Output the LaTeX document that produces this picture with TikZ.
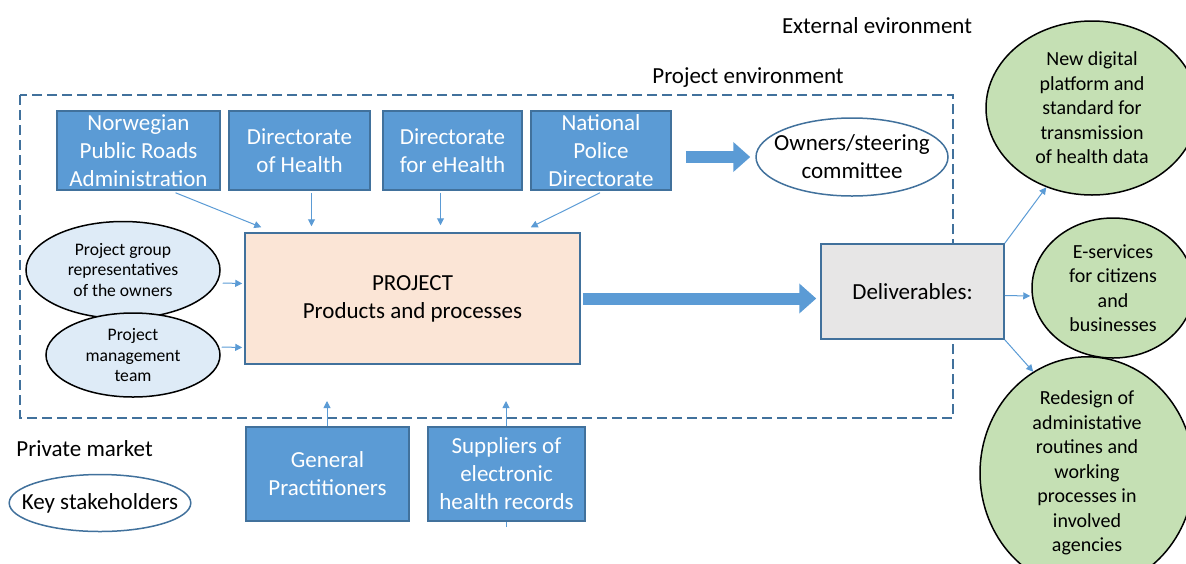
\documentclass[tikz,border=0pt]{standalone}
\usepackage{fontspec}
\setmainfont{Carlito}
\usepackage{tikz}
\usetikzlibrary{positioning,shapes,calc,arrows.meta}

\definecolor{boxblue}{RGB}{91,155,213}
\definecolor{edgeblue}{RGB}{65,113,156}
\definecolor{projfill}{RGB}{251,229,214}
\definecolor{lightblue}{RGB}{222,235,247}
\definecolor{lightgreen}{RGB}{197,224,180}
\definecolor{lightgray}{RGB}{231,230,230}

\newcommand{\bigtxt}{\fontsize{11.5}{14}\selectfont}
\newcommand{\midtxt}{\fontsize{10}{12.25}\selectfont}
\newcommand{\smalltxt}{\fontsize{8.8}{10.3}\selectfont}

\begin{document}
\begin{tikzpicture}[x=0.5pt,y=-0.5pt,
    bluebox/.style={draw=edgeblue,fill=boxblue,line width=0.75pt,text=white,
      align=center,inner sep=0pt,font=\bigtxt},
    whiteell/.style={ellipse,draw=edgeblue,fill=white,line width=0.75pt,
      inner sep=0pt,align=center,font=\bigtxt},
    blueell/.style={ellipse,draw=black,fill=lightblue,line width=0.75pt,
      inner sep=0pt,align=center,font=\smalltxt},
    greenell/.style={ellipse,draw=black,fill=lightgreen,line width=0.75pt,
      inner sep=0pt,align=center,font=\midtxt},
    thin/.style={draw=boxblue,line width=0.5pt,-{Triangle[length=3.5pt,width=3.5pt]}},
    bigarrow/.style={draw=boxblue,line width=6pt,
      -{Triangle[length=8.5pt,width=14.5pt]}},
    plain/.style={inner sep=0pt,font=\bigtxt}]
  \useasboundingbox (0,0) rectangle (1186,563);
  \clip (0,0) rectangle (1186,563);
  %%
  % Frame: project environment
  \draw[edgeblue,line width=1pt,dash pattern=on 5pt off 2.5pt] (20,95) rectangle (953,418);
  \node[plain] (extlbl) at (877,26) {External evironment};
  \node[plain] (envlbl) at (748,78) {Project environment};
  \node[plain,anchor=west] (privlbl) at (16,449) {Private market};
  %
  % Node: arrows out of the bottom boxes (drawn first, boxes go on top)
  \coordinate (gpin) at (327,401);
  \coordinate (supin) at (506,401);
  \draw[thin] (327,521) -- (gpin);
  \draw[thin] (506,527) -- (supin);
  %
  % Node: owners
  \node[bluebox,minimum width=81.5pt,minimum height=39.5pt] (npra) at (138.5,150.5)
    {Norwegian\\Public Roads\\Administration};
  \node[bluebox,minimum width=70.5pt,minimum height=39.5pt] (doh) at (299.5,150.5)
    {Directorate\\of Health};
  \node[bluebox,minimum width=69.5pt,minimum height=39.5pt] (deh) at (452.5,150.5)
    {Directorate\\for eHealth};
  \node[bluebox,minimum width=70pt,minimum height=39.5pt] (pol) at (601,150.5)
    {National\\Police\\Directorate};
  \node[whiteell,inner xsep=-5pt,minimum width=96pt,minimum height=39pt] (owners) at (852,157)
    {Owners/steering\\committee};
  %
  % Node: project
  \node[draw=edgeblue,fill=projfill,line width=0.75pt,minimum width=167.5pt,
    minimum height=65.5pt,align=center,font=\bigtxt] (proj) at (412.5,298.5)
    {PROJECT\\Products and processes};
  %
  % Node: project group and management
  \node[blueell,inner xsep=-1pt,minimum width=97pt,minimum height=48.5pt] (pgr) at (123,270)
    {Project group\\representatives\\of the owners};
  \node[blueell,minimum width=87pt,minimum height=42pt] (pmt) at (133,355)
    {Project\\management\\team};
  %
  % Node: private market
  \node[bluebox,minimum width=81.5pt,minimum height=47pt] (gp) at (327.5,474)
    {General\\Practitioners};
  \node[bluebox,minimum width=78.5pt,minimum height=47pt] (sup) at (506.5,474)
    {Suppliers of\\electronic\\health records};
  \node[whiteell,inner xsep=-7pt,minimum width=90pt,minimum height=28.5pt] (key) at (100,503)
    {Key stakeholders};
  %
  % Node: deliverables
  \node[draw=edgeblue,fill=lightgray,line width=0.75pt,minimum width=91.5pt,
    minimum height=47.5pt,font=\bigtxt] (deliv) at (912.5,291.5) {Deliverables:};
  \node[greenell,minimum width=106pt,minimum height=87pt] (dig) at (1092,108)
    {New digital\\platform and\\standard for\\transmission\\of health data};
  \node[greenell,minimum width=81pt,minimum height=70pt] (eserv) at (1113,288)
    {E-services\\for citizens\\and\\businesses};
  \node[greenell,minimum width=107pt,minimum height=97pt] (redes) at (1087,473)
    {Redesign of\\administative\\routines and\\working\\processes in\\involved\\agencies};
  %
  % Edge: owners -> project
  \draw[thin] ($(npra.south)+(37,2)$) -- ($(proj.north west)+(17,-5)$);
  \draw[thin] ($(doh.south)+(12,2)$) -- ($(proj.north)+(-101,-6)$);
  \draw[thin] ($(deh.south)+(-12,2)$) -- ($(proj.north)+(28,-7)$);
  \draw[thin] ($(pol.south)+(-1,2)$) -- ($(proj.north east)+(-50,-5)$);
  % Edge: pgr, pmt -> project
  \draw[thin] ($(pgr.east)+(2,13)$) -- ($(proj.west)+(-2,-15)$);
  \draw[thin] ($(pmt.east)+(1,-8)$) -- ($(proj.west)+(-2,49)$);
  % Edge: pol -> owners, project -> deliverables
  \draw[bigarrow,shorten <=7pt,shorten >=2.5pt] (pol.east |- owners.west) -- (owners.west);
  \draw[bigarrow,shorten <=1pt,shorten >=2pt] (proj.east) -- (proj.east -| deliv.west);
  % Edge: deliverables -> results
  \draw[thin] (deliv.north east) -- (dig.240);
  \draw[thin] ($(deliv.east)+(0,4)$) -- ($(eserv.west)+(-1,8)$);
  \draw[thin] (deliv.south east) -- (redes.118);
  %
\end{tikzpicture}
\end{document}
